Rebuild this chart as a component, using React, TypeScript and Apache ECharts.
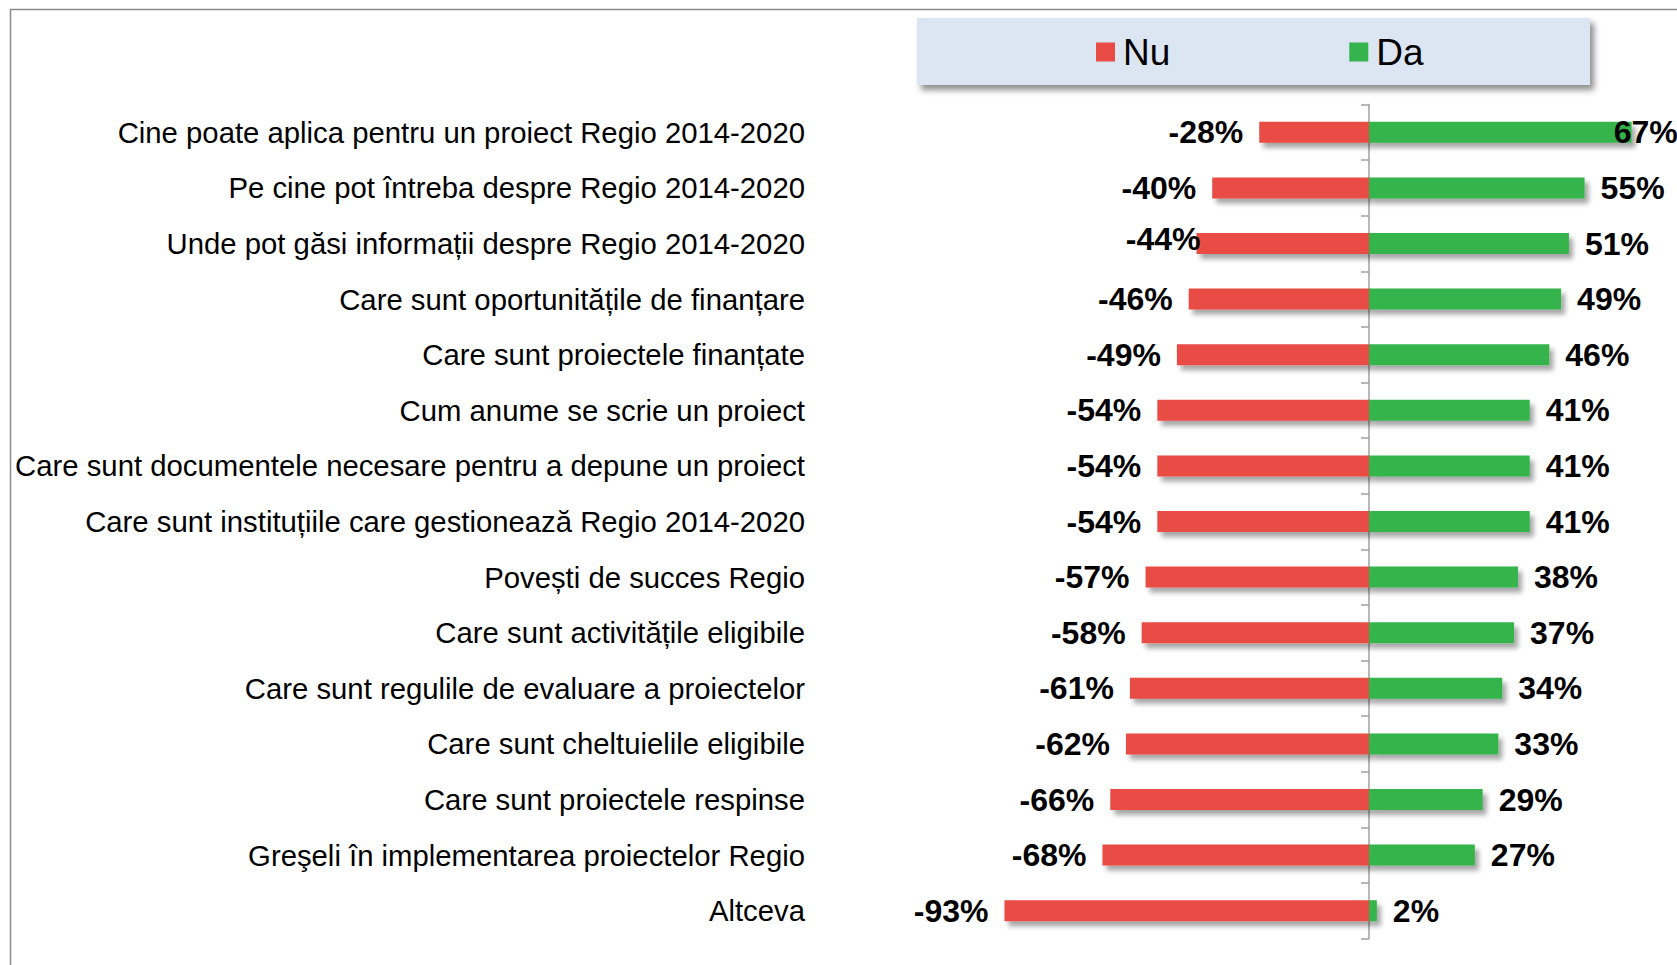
import React, { useEffect, useRef } from "react";
import * as echarts from "echarts";

const categories = [
  "Cine poate aplica pentru un proiect Regio 2014-2020",
  "Pe cine pot întreba despre Regio 2014-2020",
  "Unde pot găsi informații despre Regio 2014-2020",
  "Care sunt oportunitățile de finanțare",
  "Care sunt proiectele finanțate",
  "Cum anume se scrie un proiect",
  "Care sunt documentele necesare pentru a depune un proiect",
  "Care sunt instituțiile care gestionează Regio 2014-2020",
  "Povești de succes Regio",
  "Care sunt activitățile eligibile",
  "Care sunt regulile de evaluare a proiectelor",
  "Care sunt cheltuielile eligibile",
  "Care sunt proiectele respinse",
  "Greşeli în implementarea proiectelor Regio",
  "Altceva",
];

const nuValues = [-28, -40, -44, -46, -49, -54, -54, -54, -57, -58, -61, -62, -66, -68, -93];
const daValues = [67, 55, 51, 49, 46, 41, 41, 41, 38, 37, 34, 33, 29, 27, 2];

const seriesNames = ["Nu", "Da"];

const RED = "#E94B45";
const GREEN = "#34B44C";
const FONT = "'Liberation Sans', Arial, Helvetica, sans-serif";

// label nudges seen in the original (Excel hand placement)
const nuLabelOffsets: Record<number, [number, number]> = { 2: [20, -5] };
const daLabelOffsets: Record<number, [number, number]> = { 0: [-34, 0] };

export default function App() {
  const ref = useRef<HTMLDivElement>(null);

  useEffect(() => {
    if (!ref.current) return;
    const chart = echarts.init(ref.current, null, { renderer: "svg" });

    const barShadow = {
      shadowBlur: 5,
      shadowOffsetX: 4,
      shadowOffsetY: 5,
      shadowColor: "rgba(0,0,0,0.35)",
    };

    const valueLabel = {
      show: true,
      fontSize: 32,
      fontWeight: "bold",
      color: "#000",
      fontFamily: FONT,
      distance: 16,
      formatter: (p: any) => `${p.value}%`,
    };

    chart.setOption({
      animation: false,
      textStyle: { fontFamily: FONT },
      graphic: [
        {
          type: "rect",
          silent: true,
          z: -10,
          shape: { x: 10.5, y: 9.5, width: 1700, height: 1000 },
          style: { fill: "none", stroke: "#8c8c8c", lineWidth: 1.5 },
        },
        {
          type: "rect",
          silent: true,
          z: -5,
          shape: { x: 917, y: 18, width: 673, height: 67 },
          style: {
            fill: "#DCE6F2",
            shadowBlur: 6,
            shadowOffsetX: 4,
            shadowOffsetY: 5,
            shadowColor: "rgba(0,0,0,0.45)",
          },
        },
      ],
      legend: {
        data: seriesNames,
        left: 1096,
        top: 33.5,
        padding: 0,
        itemGap: 179,
        itemWidth: 19,
        itemHeight: 19,
        icon: "rect",
        textStyle: {
          fontSize: 37,
          lineHeight: 36,
          color: "#000",
          fontFamily: FONT,
          padding: [0, 0, 0, 3],
        },
      },
      grid: {
        left: 977,
        right: 14,
        top: 104.5,
        bottom: 26.5,
        containLabel: false,
        outerBoundsMode: "none",
      },
      xAxis: {
        type: "value",
        min: -100,
        max: 75,
        show: false,
        splitLine: { show: false },
      },
      yAxis: {
        type: "category",
        inverse: true,
        data: categories,
        axisLine: { onZero: true, lineStyle: { color: "#a0a0a0", width: 1.5 } },
        axisTick: { show: true, length: 8, lineStyle: { color: "#a0a0a0", width: 1.5 } },
        axisLabel: {
          margin: 172,
          fontSize: 29.3,
          color: "#000",
          fontFamily: FONT,
        },
        splitLine: { show: false },
      },
      series: [
        {
          name: seriesNames[0],
          type: "bar",
          barWidth: 21,
          barGap: "-100%",
          itemStyle: { color: RED, ...barShadow },
          label: { ...valueLabel, position: "left" },
          data: nuValues.map((v, i) =>
            nuLabelOffsets[i] ? { value: v, label: { offset: nuLabelOffsets[i] } } : v
          ),
        },
        {
          name: seriesNames[1],
          type: "bar",
          barWidth: 21,
          barGap: "-100%",
          itemStyle: { color: GREEN, ...barShadow },
          label: { ...valueLabel, position: "right" },
          data: daValues.map((v, i) =>
            daLabelOffsets[i] ? { value: v, label: { offset: daLabelOffsets[i] } } : v
          ),
        },
      ],
    });

    return () => chart.dispose();
  }, []);

  return (
    <div
      ref={ref}
      style={{ position: "fixed", left: 0, top: 0, width: 1677, height: 965, background: "#fff" }}
    />
  );
}
